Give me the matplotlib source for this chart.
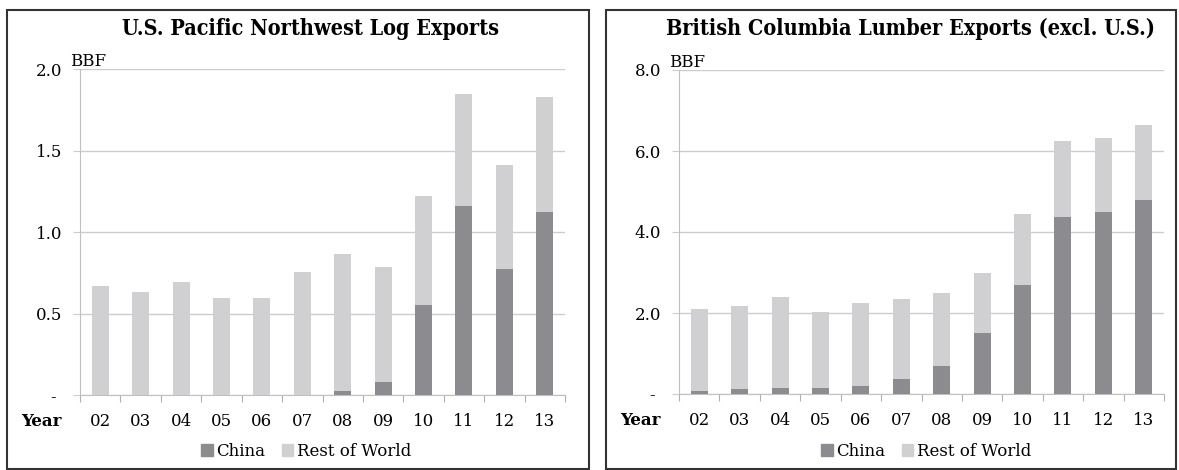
import matplotlib
matplotlib.use("Agg")
import matplotlib.pyplot as plt
from matplotlib.patches import Rectangle, Patch

years = ["02", "03", "04", "05", "06", "07", "08", "09", "10", "11", "12", "13"]

# U.S. Pacific Northwest log exports (BBF)
pnw_china = [0.003, 0.0, 0.0, 0.0, 0.0, 0.003, 0.024, 0.079, 0.555, 1.161, 0.776, 1.12]
pnw_total = [0.671, 0.634, 0.695, 0.598, 0.598, 0.756, 0.866, 0.787, 1.222, 1.847, 1.412, 1.829]

# British Columbia lumber exports excl. U.S. (BBF)
bc_china = [0.082, 0.131, 0.156, 0.156, 0.205, 0.377, 0.697, 1.508, 2.689, 4.378, 4.50, 4.797]
bc_total = [2.098, 2.172, 2.393, 2.025, 2.246, 2.344, 2.492, 2.984, 4.452, 6.25, 6.325, 6.645]

pnw_ticks = [0, 0.5, 1.0, 1.5, 2.0]
bc_ticks = [0, 2.0, 4.0, 6.0, 8.0]

C_CHINA = "#8c8c90"
C_ROW = "#d0d0d2"
C_GRID = "#cccccc"
FONT = "DejaVu Serif"

plt.rcParams["font.family"] = FONT

W, H = 1179, 470
fig = plt.figure(figsize=(W / 100, H / 100), dpi=100)


def panel(box, axbox, title, title_x, china, total, ticks, legend_x):
    # outer frame
    x0, y0, x1, y1 = box
    fig.patches.append(Rectangle((x0 / W, 1 - y1 / H), (x1 - x0) / W, (y1 - y0) / H,
                                 transform=fig.transFigure, fill=False,
                                 edgecolor="#333333", linewidth=1.5))
    l, r, b, t = axbox
    ax = fig.add_axes([l / W, 1 - b / H, (r - l) / W, (b - t) / H])
    row = [tt - c for tt, c in zip(total, china)]
    x = list(range(len(years)))
    ax.bar(x, china, width=0.42, color=C_CHINA, zorder=3)
    ax.bar(x, row, width=0.42, bottom=china, color=C_ROW, zorder=3)
    ax.set_xlim(-0.5, len(years) - 0.5)
    ax.set_ylim(ticks[0], ticks[-1])
    ax.set_yticks(ticks)
    ax.set_yticklabels(["- " if v == 0 else "%.1f" % v for v in ticks], fontsize=12)
    ax.yaxis.grid(True, color=C_GRID, linewidth=1, zorder=0)
    ax.tick_params(axis="y", length=5, color=C_GRID, pad=8)
    # category boundary ticks + centred labels
    ax.set_xticks([i - 0.5 for i in range(len(years) + 1)])
    ax.set_xticklabels([])
    ax.set_xticks(x, minor=True)
    ax.set_xticklabels(years, minor=True, fontsize=12)
    ax.tick_params(axis="x", which="major", length=5, color="#b0b0b0")
    ax.tick_params(axis="x", which="minor", length=0, pad=13)
    for s in ["top", "right"]:
        ax.spines[s].set_visible(False)
    for s in ["left", "bottom"]:
        ax.spines[s].set_color("#c0c0c0")
    ax.set_axisbelow(True)
    ax.annotate("BBF", xy=(0, 1), xycoords="axes fraction", xytext=(-7, 2),
                textcoords="offset points", fontsize=12, ha="left", va="baseline")
    ax.annotate("Year", xy=(0, 0), xycoords="axes fraction", xytext=(-13, -19),
                textcoords="offset points", fontsize=12, fontweight="bold",
                ha="right", va="center")
    fig.text(title_x / W, 1 - 29 / H, title, fontsize=15.5, fontweight="bold",
             fontstretch="condensed", ha="center", va="center")
    handles = [Patch(color=C_CHINA, label="China"), Patch(color=C_ROW, label="Rest of World")]
    fig.legend(handles=handles, loc="center", bbox_to_anchor=(legend_x / W, 1 - 451 / H),
               ncol=2, frameon=False, fontsize=12, handlelength=0.7, handleheight=0.7,
               handletextpad=0.2, columnspacing=1.0)
    return ax


panel((7, 10, 589, 469), (80, 565, 395, 69), "U.S. Pacific Northwest Log Exports", 310,
      pnw_china, pnw_total, pnw_ticks, 306)
panel((606, 10, 1176, 469), (679, 1164, 394, 70), "British Columbia Lumber Exports (excl. U.S.)", 911,
      bc_china, bc_total, bc_ticks, 926)

fig.savefig("out.png", dpi=100)
